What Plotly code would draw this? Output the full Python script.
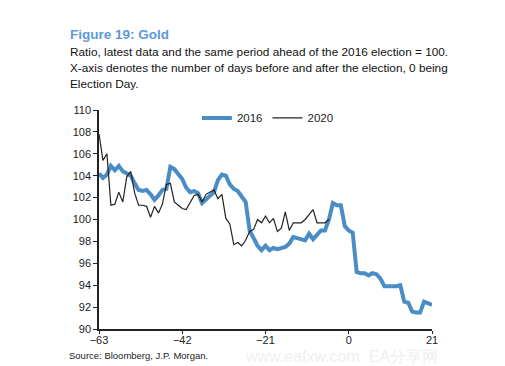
import plotly.graph_objects as go

days_2016 = list(range(-63, 22))
gold_2016 = [104.2, 103.8, 104.1, 104.9, 104.5, 104.9, 104.4, 104.2, 104.0, 103.3,
             102.7, 102.6, 102.7, 102.3, 101.8, 102.2, 102.7, 102.8, 104.8, 104.6,
             104.2, 103.7, 102.9, 102.5, 102.6, 102.4, 101.5, 101.8, 102.2, 102.5,
             103.6, 104.1, 104.0, 103.2, 102.8, 102.6, 102.1, 101.6, 99.0, 98.3,
             97.6, 97.2, 97.6, 97.2, 97.4, 97.3, 97.4, 97.5, 97.8, 98.4,
             98.3, 98.2, 98.1, 98.7, 98.2, 98.6, 99.0, 99.0, 100.0, 101.5,
             101.3, 101.3, 99.4, 99.0, 98.8, 95.2, 95.1, 95.1, 94.9, 95.1,
             95.0, 94.6, 93.9, 93.9, 93.9, 93.9, 94.0, 92.5, 92.4, 91.6,
             91.5, 91.5, 92.5, 92.3, 92.2]

days_2020 = list(range(-63, -4))
gold_2020 = [107.8, 105.4, 106.0, 101.3, 101.4, 102.5, 101.6, 103.9, 104.4, 102.4,
             101.3, 101.3, 101.2, 100.2, 101.2, 100.6, 101.4, 103.2, 103.3, 101.6,
             101.3, 101.0, 100.9, 101.5, 102.2, 102.3, 101.6, 102.3, 102.5, 102.7,
             101.9, 102.3, 100.1, 99.6, 97.7, 97.9, 97.6, 98.1, 98.9, 99.1,
             100.0, 99.7, 100.3, 99.7, 100.1, 98.9, 99.2, 100.7, 99.0, 99.7,
             99.7, 99.7, 100.0, 100.4, 100.9, 99.7, 99.7, 99.7, 100.0]

x_ticks = [-63, -42, -21, 0, 21]
y_ticks = list(range(90, 111, 2))

font = "Arial, Liberation Sans, sans-serif"

# page body adds an 8px offset; figure coordinates are compensated
OFF = 8
W, H = 505 - OFF, 366 - OFF
L, T = 99 - OFF, 110 - OFF
R, B = 73, 37
pw, ph = W - L - R, H - T - B

fig = go.Figure()
fig.add_trace(go.Scatter(x=days_2016, y=gold_2016, mode="lines", name="2016",
                         line=dict(color="#4a8cc6", width=4)))
fig.add_trace(go.Scatter(x=days_2020, y=gold_2020, mode="lines", name="2020",
                         line=dict(color="#222222", width=1.2)))

anns = [
    dict(text="<b>Figure 19: Gold</b>", px=68, py=34, size=13.5, color="#5b9bd5"),
    dict(text="Ratio, latest data and the same period ahead of the 2016 election = 100.",
         px=68, py=52, size=11.8, color="#111"),
    dict(text="X-axis denotes the number of days before and after the election, 0 being",
         px=68, py=68, size=11.8, color="#111"),
    dict(text="Election Day.", px=68, py=84, size=11.8, color="#111"),
    dict(text="Source: Bloomberg, J.P. Morgan.", px=67, py=355, size=9.5, color="#222"),
    dict(text="www.eafxw.com  EA分享网", px=243, py=356, size=16, color="#efefef"),
]
out = []
for a in anns:
    out.append(dict(text=a["text"], xref="paper", yref="paper",
                    x=(a["px"] - OFF - L) / pw, y=1 - (a["py"] - OFF - T) / ph,
                    xanchor="left", yanchor="middle", showarrow=False,
                    font=dict(size=a["size"], color=a["color"], family=font)))

fig.update_layout(
    width=W, height=H,
    margin=dict(l=L, r=R, t=T, b=B),
    paper_bgcolor="white", plot_bgcolor="white",
    font=dict(family=font, size=11, color="#222"),
    showlegend=True,
    legend=dict(orientation="h", x=0.294, xanchor="left", y=1.03, yanchor="top",
                bgcolor="rgba(0,0,0,0)", font=dict(size=11.5, color="#222"),
                tracegroupgap=0, itemwidth=30),
    xaxis=dict(range=[-63, 21], tickvals=x_ticks, showgrid=False, zeroline=False,
               showline=True, linecolor="#222", linewidth=1.5,
               ticks="outside", ticklen=3, tickcolor="#222", tickfont=dict(size=11),
               ticklabelstandoff=-3),
    yaxis=dict(range=[90, 110], tickvals=y_ticks, showgrid=False, zeroline=False,
               showline=True, linecolor="#222", linewidth=1.5,
               ticks="outside", ticklen=4, tickcolor="#222", tickfont=dict(size=11)),
    annotations=out,
)

fig.write_html("out.html")
